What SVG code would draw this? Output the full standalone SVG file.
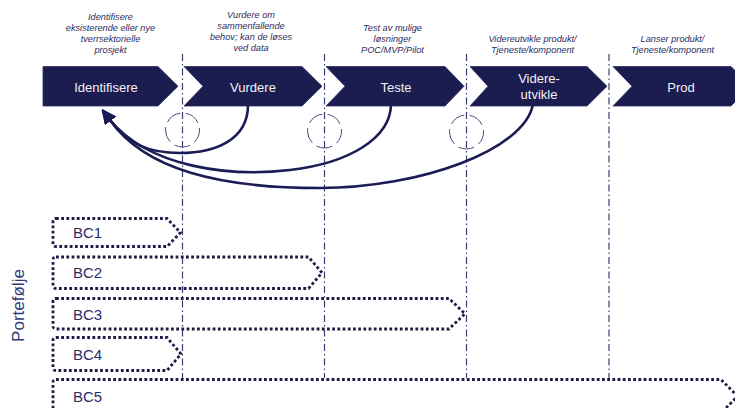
<svg xmlns="http://www.w3.org/2000/svg" width="735" height="408" viewBox="0 0 735 408">
<style>
.chev{fill:#1b1c50;stroke:#2a2b5e;stroke-width:0.8}
.clab{font-family:"Liberation Sans",Arial,sans-serif;font-size:13px;fill:#f2f2f7;text-anchor:middle}
.desc{font-family:"Liberation Sans",Arial,sans-serif;font-size:9.2px;font-style:italic;fill:#2b2c5c;text-anchor:middle}
.vline{stroke:#3c3d72;stroke-width:1.2;stroke-dasharray:7 3 1.5 3;fill:none}
.circ{fill:none;stroke:#4a4c80;stroke-width:1;stroke-dasharray:16 5.36;stroke-dashoffset:2.66}
.curve{fill:none;stroke:#1b1c55;stroke-width:2.6}
.bc{fill:none;stroke:#1c1d45;stroke-width:2.8;stroke-dasharray:2.8 2.4}
.bclab{font-family:"Liberation Sans",Arial,sans-serif;font-size:15px;fill:#2a2c6b}
.port{font-family:"Liberation Sans",Arial,sans-serif;font-size:17px;fill:#333878;text-anchor:middle}
</style>
<defs>
<marker id="ah" markerUnits="userSpaceOnUse" markerWidth="16" markerHeight="16" refX="1" refY="7" orient="auto">
<path d="M0,0 L14.5,7 L0,14 Z" fill="#1b1c55"/>
</marker>
</defs>

<g id="guides">
<line class="vline" x1="182.5" y1="54" x2="182.5" y2="378"/>
<line class="vline" x1="324.5" y1="54" x2="324.5" y2="378"/>
<line class="vline" x1="466.5" y1="54" x2="466.5" y2="378"/>
<line class="vline" x1="609" y1="54" x2="609" y2="378"/>
<circle class="circ" cx="182.5" cy="130" r="17"/>
<circle class="circ" cx="324.5" cy="131" r="17"/>
<circle class="circ" cx="466.5" cy="132" r="17"/>
</g>

<g id="identifisere">
<path class="chev" d="M43,66.5 L158,66.5 L178,86.25 L158,106 L43,106 Z"/>
<text class="clab" x="106" y="92">Identifisere</text>
<text class="desc" x="110.5" y="19.5">Identifisere</text>
<text class="desc" x="110.5" y="30.5">eksisterende eller nye</text>
<text class="desc" x="110.5" y="41.5">tverrsektorielle</text>
<text class="desc" x="110.5" y="52.5">prosjekt</text>
</g>

<g id="vurdere">
<path class="chev" d="M184,66.5 L302,66.5 L322,86.25 L302,106 L184,106 L203,86.25 Z"/>
<text class="clab" x="253" y="92">Vurdere</text>
<text class="desc" x="251" y="18">Vurdere om</text>
<text class="desc" x="251" y="29">sammenfallende</text>
<text class="desc" x="251" y="40">behov; kan de løses</text>
<text class="desc" x="251" y="51">ved data</text>
</g>

<g id="teste">
<path class="chev" d="M326,66.5 L445,66.5 L464,86.25 L445,106 L326,106 L345,86.25 Z"/>
<text class="clab" x="396" y="92">Teste</text>
<text class="desc" x="392.5" y="30.5">Test av mulige</text>
<text class="desc" x="392.5" y="41.5">løsninger</text>
<text class="desc" x="392.5" y="52.5">POC/MVP/Pilot</text>
</g>

<g id="videreutvikle">
<path class="chev" d="M470,66.5 L587,66.5 L607,86.25 L587,106 L470,106 L488,86.25 Z"/>
<text class="clab" x="539" y="83">Videre-</text>
<text class="clab" x="539" y="99">utvikle</text>
<text class="desc" x="532.5" y="41.5">Videreutvikle produkt/</text>
<text class="desc" x="532.5" y="52.5">Tjeneste/komponent</text>
</g>

<g id="prod">
<path class="chev" d="M613,66.5 L731,66.5 L736,71.5 L736,101 L731,106 L613,106 L632,86.25 Z"/>
<text class="clab" x="681" y="92">Prod</text>
<text class="desc" x="672.5" y="41.5">Lanser produkt/</text>
<text class="desc" x="672.5" y="52.5">Tjeneste/komponent</text>
</g>

<g id="connectors">
<path class="curve" marker-end="url(#ah)" d="M248,105 C248,140 215,153 180,153 C150,153 128,145 110,120"/>
<path class="curve" marker-end="url(#ah)" d="M391,105 C390,138 350,163 290,170 C230,177 150,168 110,120"/>
<path class="curve" marker-end="url(#ah)" d="M533,104 C525,150 420,188 320,188 C220,188 145,170 110,120"/>
</g>

<g id="bc1">
<path class="bc" d="M56,218.5 H167 L180.5,232.5 L167,246.5 H56 Q53,246.5 53,243.5 V221.5 Q53,218.5 56,218.5 Z"/>
<text class="bclab" x="73" y="237.7">BC1</text>
</g>
<g id="bc2">
<path class="bc" d="M56,257 H308.5 L322,272.75 L308.5,288.5 H56 Q53,288.5 53,285.5 V260 Q53,257 56,257 Z"/>
<text class="bclab" x="73" y="278">BC2</text>
</g>
<g id="bc3">
<path class="bc" d="M56,298.5 H449 L465,313.75 L449,329 H56 Q53,329 53,326 V301.5 Q53,298.5 56,298.5 Z"/>
<text class="bclab" x="73" y="320">BC3</text>
</g>
<g id="bc4">
<path class="bc" d="M56,337.5 H167 L181,354 L167,370.5 H56 Q53,370.5 53,367.5 V340.5 Q53,337.5 56,337.5 Z"/>
<text class="bclab" x="73" y="360">BC4</text>
</g>
<g id="bc5">
<path class="bc" d="M56,379.5 H721 L737.5,396.25 L721,413 H56 Q53,413 53,410 V382.5 Q53,379.5 56,379.5 Z"/>
<text class="bclab" x="73" y="401.7">BC5</text>
</g>

<g id="portefolje">
<text class="port" transform="translate(24,305.5) rotate(-90)">Portefølje</text>
</g>
</svg>
